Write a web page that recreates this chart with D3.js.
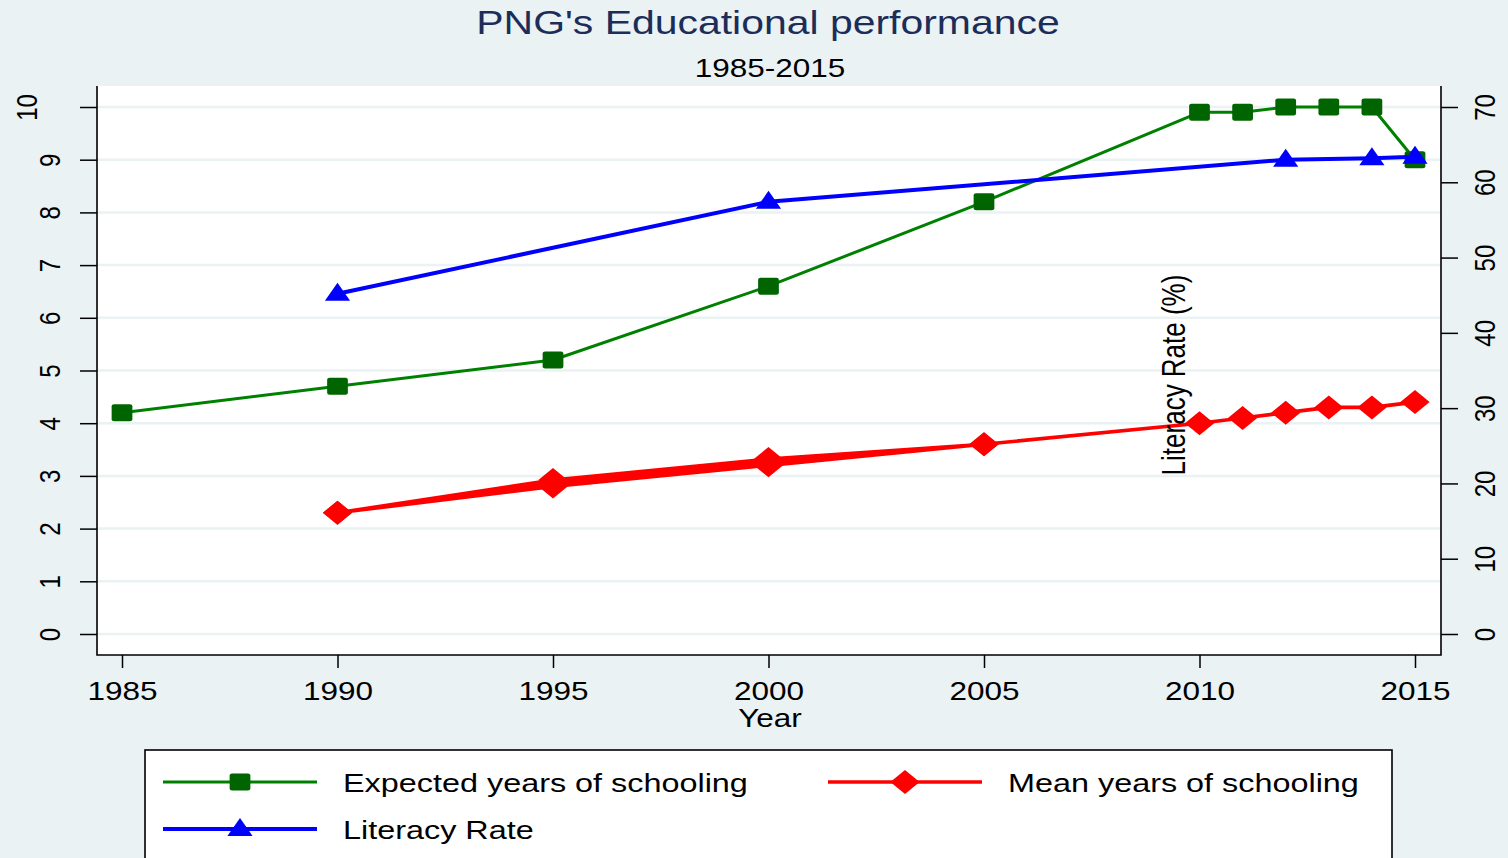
<!DOCTYPE html>
<meta charset="utf-8">
<head>
<style>
  body { margin: 0; background: #eaf2f3; }
  svg { display: block; font-family: "Liberation Sans", Arial, sans-serif; }
</style>
</head>
<body>
<script src="https://d3js.org/d3.v7.min.js"></script>
<script>
// data
var expYear = [1985, 1990, 1995, 2000, 2005, 2010, 2011, 2012, 2013, 2014, 2015];
var expVal = [4.2, 4.7, 5.2, 6.6, 8.2, 9.9, 9.9, 10, 10, 10, 9.0];

// mean years rows in data order (1995/2000 appear several times in the source, giving the thick band)
var meanYear = [1990, 1995, 2000, 2005, 2000, 1995, 1990, 1995, 2000, 2005, 2010, 2011, 2012, 2013, 2014, 2015];
var meanVal = [2.3, 2.92, 3.32, 3.6, 3.26, 2.86, 2.3, 2.8, 3.2, 3.6, 4.0, 4.1, 4.2, 4.3, 4.3, 4.4];

var litYear = [1990, 2000, 2012, 2014, 2015];
var litVal = [45.2, 57.4, 63.0, 63.2, 63.4];

var xTicks = [1985, 1990, 1995, 2000, 2005, 2010, 2015];
var leftTicks = [0, 1, 2, 3, 4, 5, 6, 7, 8, 9, 10];
var rightTicks = [0, 10, 20, 30, 40, 50, 60, 70];

var W = 1508, H = 858;
var plot = { left: 97, right: 1441, top: 86, bottom: 655 };
var SX = 1.26; // the picture is stretched sideways

var x = d3.scaleLinear().domain([1985, 2015]).range([122, 1415]);
var yL = d3.scaleLinear().domain([0, 10]).range([634, 107]);
var yR = d3.scaleLinear().domain([0, 70]).range([634, 107]);

var svg = d3.select("body").append("svg")
    .attr("width", W)
    .attr("height", H);

svg.append("rect").attr("width", W).attr("height", H).attr("fill", "#eaf2f3");
svg.append("rect")
    .attr("x", plot.left).attr("y", plot.top)
    .attr("width", plot.right - plot.left).attr("height", plot.bottom - plot.top)
    .attr("fill", "#fff");

function stext(g, str, tx, ty, size, opts) {
    opts = opts || {};
    return g.append("text")
        .attr("transform", "translate(" + tx + "," + ty + ") scale(" + SX + ",1)" + (opts.rot ? " rotate(" + opts.rot + ")" : ""))
        .attr("text-anchor", opts.anchor || "middle")
        .style("font-size", size + "px")
        .attr("fill", opts.fill || "#000")
        .text(str);
}

// gridlines
svg.append("g").selectAll("line")
    .data(leftTicks)
    .enter().append("line")
    .attr("x1", plot.left).attr("x2", plot.right)
    .attr("y1", function(d) { return yL(d); })
    .attr("y2", function(d) { return yL(d); })
    .attr("stroke", "#eaf2f3")
    .attr("stroke-width", 2.5);

// axes
var gx = svg.append("g")
    .attr("transform", "translate(0," + plot.bottom + ")")
    .call(d3.axisBottom(x).tickValues(xTicks).tickSize(13).tickSizeOuter(0).tickFormat(d3.format("d")));
var gl = svg.append("g")
    .attr("transform", "translate(" + plot.left + ",0)")
    .call(d3.axisLeft(yL).tickValues(leftTicks).tickSize(17).tickSizeOuter(0));
var gr = svg.append("g")
    .attr("transform", "translate(" + plot.right + ",0)")
    .call(d3.axisRight(yR).tickValues(rightTicks).tickSize(17).tickSizeOuter(0));

[gx, gl, gr].forEach(function(g) {
    g.select(".domain").remove();
    g.selectAll(".tick line").attr("stroke", "#000").attr("stroke-width", 1.5);
    g.attr("font-family", null).attr("font-size", null);
});

gx.selectAll(".tick text")
    .attr("x", null).attr("y", null).attr("dy", null)
    .attr("transform", "translate(0,45) scale(" + SX + ",1)")
    .attr("text-anchor", "middle")
    .attr("fill", "#000")
    .style("font-size", "25px");

gl.selectAll(".tick text")
    .attr("x", null).attr("y", null).attr("dy", null)
    .attr("transform", function(d) {
        var off = String(d).length > 1 ? -60 : -37;
        return "translate(" + off + ",0) scale(" + SX + ",1) rotate(-90)";
    })
    .attr("text-anchor", "middle")
    .attr("fill", "#000")
    .style("font-size", "24px");

gr.selectAll(".tick text")
    .attr("x", null).attr("y", null).attr("dy", null)
    .attr("transform", "translate(54,0) scale(" + SX + ",1) rotate(-90)")
    .attr("text-anchor", "middle")
    .attr("fill", "#000")
    .style("font-size", "24px");

// frame: left, bottom, right
svg.append("path")
    .attr("d", "M" + plot.left + "," + plot.top + "V" + plot.bottom + "H" + plot.right + "V" + plot.top)
    .attr("fill", "none")
    .attr("stroke", "#000")
    .attr("stroke-width", 1.6);

// marker shapes (drawn unstretched, then widened)
function square(g, cx, cy, col) {
    g.append("rect")
        .attr("x", -8.5).attr("y", -8.5).attr("width", 17).attr("height", 17).attr("rx", 2)
        .attr("transform", "translate(" + cx + "," + cy + ") scale(1.22,1)")
        .attr("fill", col);
}
function diamond(g, cx, cy, col) {
    g.append("path")
        .attr("d", "M0,-12L12,0L0,12L-12,0Z")
        .attr("transform", "translate(" + cx + "," + cy + ") scale(1.22,1)")
        .attr("fill", col);
}
function triangle(g, cx, cy, col) {
    g.append("path")
        .attr("d", "M0,-11L10.5,7L-10.5,7Z")
        .attr("transform", "translate(" + cx + "," + cy + ") scale(1.2,1)")
        .attr("fill", col);
}

var lineGen = function(ys, vs, sc) {
    return d3.line()
        .x(function(i) { return x(ys[i]); })
        .y(function(i) { return sc(vs[i]); })(d3.range(ys.length));
};

// expected years
var gExp = svg.append("g");
gExp.append("path").attr("d", lineGen(expYear, expVal, yL))
    .attr("fill", "none").attr("stroke", "#008000").attr("stroke-width", 3).attr("stroke-linejoin", "round");
expYear.forEach(function(yr, i) { square(gExp, x(yr), yL(expVal[i]), "#006400"); });

// mean years
var gMean = svg.append("g");
gMean.append("path").attr("d", lineGen(meanYear, meanVal, yL))
    .attr("fill", "none").attr("stroke", "#ff0000").attr("stroke-width", 3.6).attr("stroke-linejoin", "round");
meanYear.forEach(function(yr, i) { diamond(gMean, x(yr), yL(meanVal[i]), "#ff0000"); });

// literacy
var gLit = svg.append("g");
gLit.append("path").attr("d", lineGen(litYear, litVal, yR))
    .attr("fill", "none").attr("stroke", "#0000ff").attr("stroke-width", 4).attr("stroke-linejoin", "round");
litYear.forEach(function(yr, i) { triangle(gLit, x(yr), yR(litVal[i]), "#0000ff"); });

// titles
stext(svg, "PNG's Educational performance", 768, 34, 32.5, { fill: "#1c2d5a" });
stext(svg, "1985-2015", 770, 77, 25);
stext(svg, "Year", 770, 727, 25);
stext(svg, "Literacy Rate (%)", 1185, 375, 26, { rot: -90 });

// legend
var leg = svg.append("g");
leg.append("rect")
    .attr("x", 145).attr("y", 750).attr("width", 1247).attr("height", 140)
    .attr("fill", "#fff").attr("stroke", "#000").attr("stroke-width", 1.6);

var legItems = [
    { name: "Expected years of schooling", col: "#008000", mk: "#006400", shape: square, lx: 163, ty: 782, w: 3 },
    { name: "Mean years of schooling", col: "#ff0000", mk: "#ff0000", shape: diamond, lx: 828, ty: 782, w: 3.5 },
    { name: "Literacy Rate", col: "#0000ff", mk: "#0000ff", shape: triangle, lx: 163, ty: 829, w: 4 }
];
legItems.forEach(function(d) {
    leg.append("line")
        .attr("x1", d.lx).attr("x2", d.lx + 154)
        .attr("y1", d.ty).attr("y2", d.ty)
        .attr("stroke", d.col).attr("stroke-width", d.w);
    d.shape(leg, d.lx + 77, d.ty, d.mk);
    stext(leg, d.name, d.lx + 180, d.ty + 10, 25.7, { anchor: "start" });
});
</script>
</body>
